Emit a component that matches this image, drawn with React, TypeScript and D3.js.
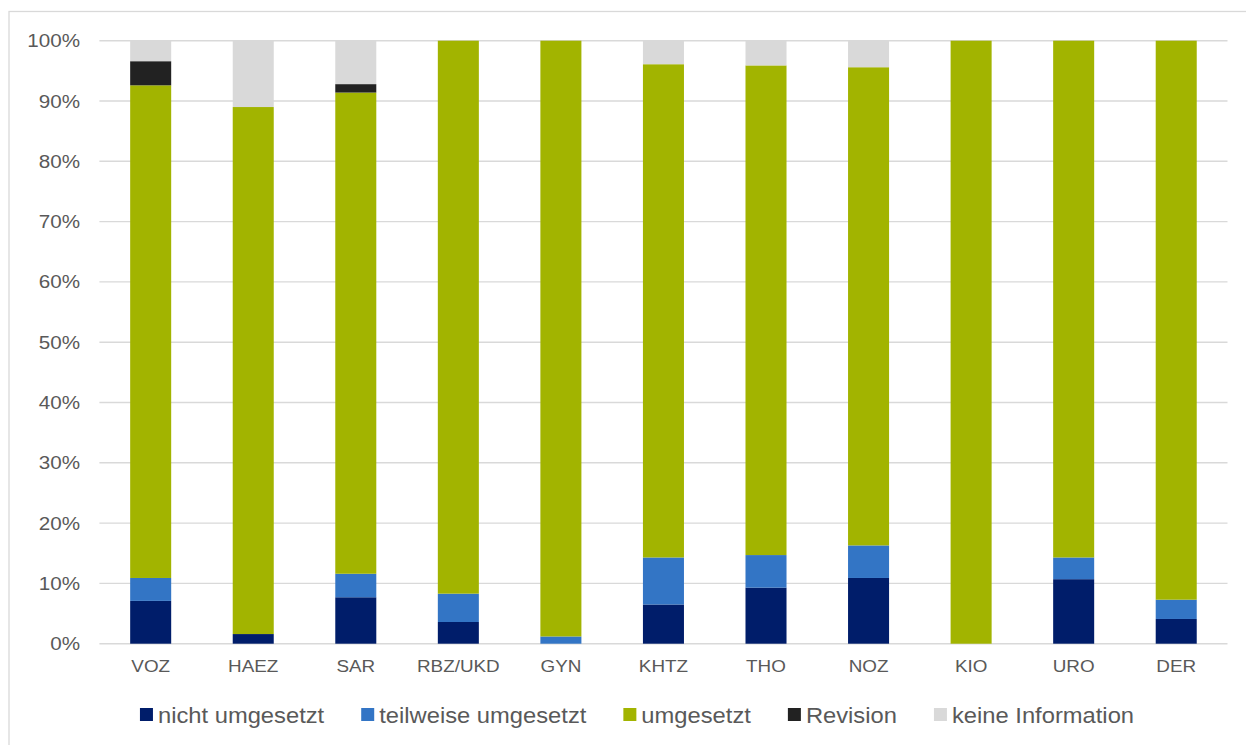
import React, { useEffect, useRef } from "react";
import * as d3 from "d3";

// Implementation status per clinic (share of measures, %)
const categories = ["VOZ", "HAEZ", "SAR", "RBZ/UKD", "GYN", "KHTZ", "THO", "NOZ", "KIO", "URO", "DER"];
const nichtUmgesetzt = [7.1, 1.6, 7.7, 3.6, 0, 6.5, 9.3, 10.9, 0, 10.7, 4.1];
const teilweiseUmgesetzt = [3.8, 0, 3.9, 4.7, 1.2, 7.8, 5.4, 5.4, 0, 3.6, 3.2];
const umgesetzt = [81.7, 87.4, 79.8, 91.7, 98.8, 81.8, 81.2, 79.3, 100, 85.7, 92.7];
const revision = [4.0, 0, 1.4, 0, 0, 0, 0, 0, 0, 0, 0];
const keineInformation = [3.4, 11.0, 7.2, 0, 0, 3.9, 4.1, 4.4, 0, 0, 0];

const seriesNames = ["nicht umgesetzt", "teilweise umgesetzt", "umgesetzt", "Revision", "keine Information"];
const seriesValues = [nichtUmgesetzt, teilweiseUmgesetzt, umgesetzt, revision, keineInformation];
const seriesColors = ["#001d6a", "#3375c5", "#a2b400", "#222222", "#d9d9d9"];
const yTicks = [0, 10, 20, 30, 40, 50, 60, 70, 80, 90, 100];

const W = 1246;
const H = 745;
const TEXT = "#595959";
const GRID = "#d9d9d9";
const FONT = "'Liberation Sans', Arial, sans-serif";
const STRETCH = 1.11;

export default function App() {
  const ref = useRef<SVGSVGElement | null>(null);

  useEffect(() => {
    const svg = d3.select(ref.current!);
    svg.selectAll("*").remove();

    const rows = categories.map((c, i) => {
      const r: Record<string, any> = { cat: c };
      seriesNames.forEach((s, k) => (r[s] = seriesValues[k][i]));
      return r;
    });
    const stacked = d3.stack<any>().keys(seriesNames)(rows);

    const x = d3.scaleBand<string>().domain(categories).range([99.4, 1227.5]).paddingInner(0.6).paddingOuter(0.3);
    const y = d3.scaleLinear().domain([0, 100]).range([643.7, 40.7]);
    const color = d3.scaleOrdinal<string, string>().domain(seriesNames).range(seriesColors);

    // outer frame
    svg.append("rect")
      .attr("x", 9).attr("y", 11.5).attr("width", 1300).attr("height", 800)
      .attr("fill", "#fff").attr("stroke", GRID).attr("stroke-width", 1.3);

    // gridlines
    svg.append("g").selectAll("line").data(yTicks).join("line")
      .attr("x1", 99.4).attr("x2", 1227.5)
      .attr("y1", (d) => y(d)).attr("y2", (d) => y(d))
      .attr("stroke", GRID).attr("stroke-width", 1.4);

    // y tick labels
    svg.append("g").selectAll("text").data(yTicks).join("text")
      .attr("transform", (d) => `translate(80,${y(d) + 6.5}) scale(${STRETCH},1)`)
      .attr("text-anchor", "end")
      .attr("font-family", FONT).attr("font-size", 18.6).attr("fill", TEXT)
      .text((d) => `${d}%`);

    // stacked bars
    svg.append("g").selectAll("g").data(stacked).join("g")
      .attr("fill", (d) => color(d.key))
      .selectAll("rect").data((d) => d).join("rect")
      .attr("x", (d: any) => x(d.data.cat)!)
      .attr("width", x.bandwidth())
      .attr("y", (d: any) => y(d[1]))
      .attr("height", (d: any) => Math.max(0, y(d[0]) - y(d[1])));

    // category labels
    svg.append("g").selectAll("text").data(categories).join("text")
      .attr("transform", (d) => `translate(${x(d)! + x.bandwidth() / 2},672) scale(${STRETCH},1)`)
      .attr("text-anchor", "middle")
      .attr("font-family", FONT).attr("font-size", 17).attr("fill", TEXT)
      .text((d) => d);

    // legend
    const legend = svg.append("g");
    const items = legend.selectAll("g").data(seriesNames).join("g");
    items.append("rect").attr("x", 0).attr("y", 708).attr("width", 13).attr("height", 13)
      .attr("fill", (d) => color(d));
    const labels = items.append("text")
      .attr("transform", `translate(18,723) scale(${STRETCH},1)`)
      .attr("font-family", FONT).attr("font-size", 21.4).attr("fill", TEXT)
      .text((d) => d);
    const widths: number[] = [];
    labels.each(function () {
      widths.push((this as SVGTextElement).getComputedTextLength() * STRETCH);
    });
    let offset = 0;
    const offsets: number[] = [];
    widths.forEach((w) => {
      offsets.push(offset);
      offset += 18 + w + 37;
    });
    const total = offset - 37;
    const start = 637 - total / 2;
    items.attr("transform", (_d, i) => `translate(${start + offsets[i]},0)`);
  }, []);

  return (
    <svg
      ref={ref}
      width={W}
      height={H}
      style={{ position: "absolute", left: 0, top: 0, display: "block", background: "#fff" }}
    />
  );
}
